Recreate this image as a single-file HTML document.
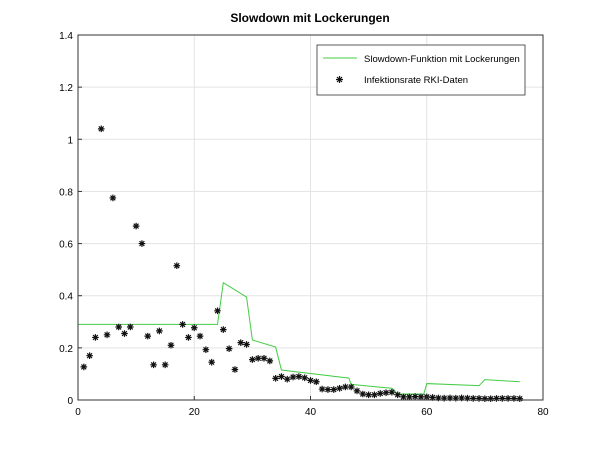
<!DOCTYPE html>
<html><head><meta charset="utf-8"><style>
body{margin:0;background:#fff}
svg{display:block;font-family:"Liberation Sans",sans-serif}
</style></head><body>
<svg id="c" width="600" height="450">
<rect width="600" height="450" fill="#fff"/>
<text x="310" y="22" text-anchor="middle" font-size="12" font-weight="bold">Slowdown mit Lockerungen</text>
<g id="grid"></g><g id="series"></g><g id="axes"></g>
<g>
<rect x="317" y="45" width="208" height="50" fill="#fff" stroke="#333" stroke-width="0.8"/>
<line x1="323" y1="58" x2="357" y2="58" stroke="#4c4" stroke-width="1"/>
<text x="364" y="62" font-size="9.5">Slowdown-Funktion mit Lockerungen</text>
<path d="M336,79.5h7M339.5,76v7M337,77l5,5M342,77l-5,5" stroke="#111" stroke-width="1.2"/>
<text x="364" y="83" font-size="9.5">Infektionsrate RKI-Daten</text>
</g>
</svg>
<script>
const xTicks=[0,20,40,60,80];
const yTicks=[0,0.2,0.4,0.6,0.8,1,1.2,1.4];
const yTickLabels=["0","0.2","0.4","0.6","0.8","1","1.2","1.4"];
const rkiValues=[0.127,0.17,0.24,1.04,0.25,0.775,0.28,0.255,0.28,0.667,0.6,0.245,0.135,0.265,0.135,0.21,0.515,0.29,0.24,0.277,0.245,0.193,0.145,0.342,0.27,0.197,0.117,0.22,0.213,0.155,0.16,0.16,0.15,0.083,0.09,0.08,0.088,0.09,0.085,0.075,0.07,0.042,0.04,0.04,0.045,0.05,0.05,0.035,0.023,0.02,0.02,0.025,0.028,0.03,0.02,0.012,0.012,0.013,0.012,0.012,0.01,0.008,0.007,0.008,0.007,0.008,0.007,0.006,0.006,0.005,0.005,0.006,0.006,0.006,0.006,0.005];
const slowX=[0,24,25,29,30,34,35,46.6,47,54,55,59.5,60,69,70,76];
const slowY=[0.29,0.29,0.45,0.395,0.23,0.203,0.115,0.084,0.06,0.045,0.023,0.023,0.063,0.055,0.078,0.07];
const X0=78,X1=543,Y0=400,Y1=35;
const sx=v=>X0+(v-0)/(80-0)*(X1-X0);
const sy=v=>Y0-(v-0)/(1.4-0)*(Y0-Y1);
const NS="http://www.w3.org/2000/svg";
function mk(tag,attrs,parent){const e=document.createElementNS(NS,tag);for(const k in attrs)e.setAttribute(k,attrs[k]);parent.appendChild(e);return e;}
const grid=document.getElementById('grid'),axes=document.getElementById('axes'),ser=document.getElementById('series');
xTicks.forEach(t=>{
 if(t>0&&t<80){const g=mk('line',{x1:sx(t),x2:sx(t),y1:Y1,y2:Y0,stroke:'#e3e3e3','stroke-width':1},grid);
 
 }
 const tk=mk('line',{x1:sx(t),x2:sx(t),y1:Y0,y2:Y0-4,stroke:'#333'},axes);
 
 
 const l=mk('text',{x:sx(t),y:Y0+15,'text-anchor':'middle','font-size':10},axes);l.textContent=t;
 
 
});
yTicks.forEach((t,i)=>{
 if(t>0&&t<1.4){const g=mk('line',{x1:X0,x2:X1,y1:sy(t),y2:sy(t),stroke:'#e3e3e3','stroke-width':1},grid);
 
 }
 const tk=mk('line',{x1:X0,x2:X0+4,y1:sy(t),y2:sy(t),stroke:'#333'},axes);
 
 
 const l=mk('text',{x:X0-5,y:sy(t)+4,'text-anchor':'end','font-size':10},axes);l.textContent=yTickLabels[i];
 
 
});
const box=mk('rect',{x:X0,y:Y1,width:X1-X0,height:Y0-Y1,fill:'none',stroke:'#333','stroke-width':1},axes);


const pl=mk('polyline',{points:slowX.map((x,i)=>sx(x)+','+sy(slowY[i])).join(' '),fill:'none',stroke:'#4c4','stroke-width':1},ser);


rkiValues.forEach((v,i)=>{
 const cx=sx(i+1),cy=sy(v),r=3.3,d=2.4;
 const p=mk('path',{d:`M${cx-r},${cy}h${2*r}M${cx},${cy-r}v${2*r}M${cx-d},${cy-d}l${2*d},${2*d}M${cx+d},${cy-d}l${-2*d},${2*d}`,stroke:'#111','stroke-width':1.2,fill:'none'},ser);
 
 
});
</script>
</body></html>
